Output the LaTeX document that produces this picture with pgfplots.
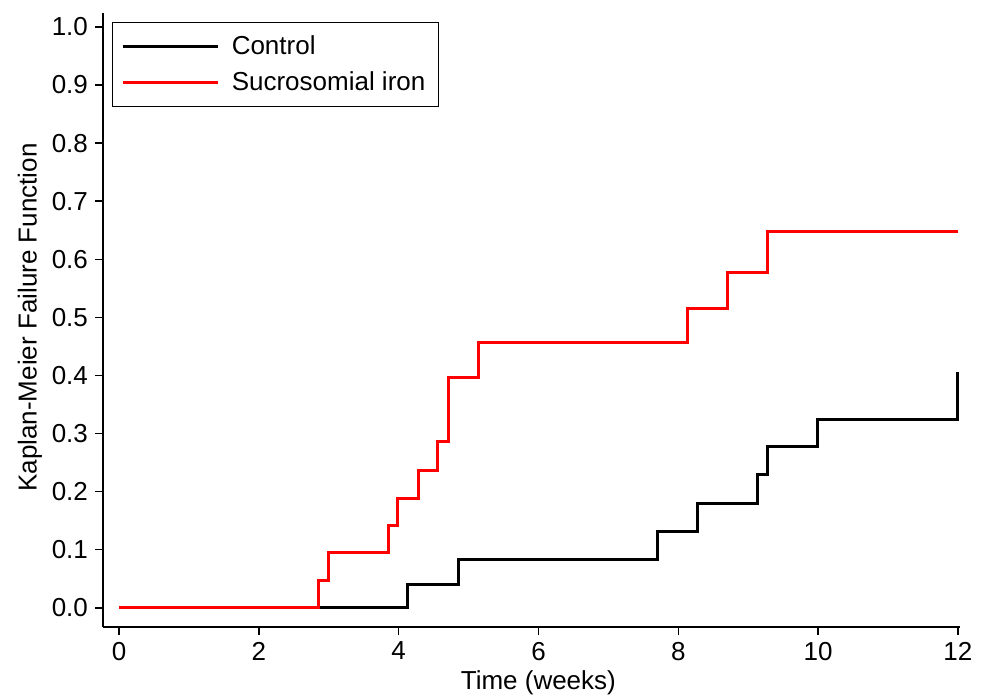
\documentclass[border=0pt]{standalone}
\usepackage{fontspec}
\setmainfont{Liberation Sans}
\usepackage{pgfplots}
\pgfplotsset{compat=1.18}
\begin{document}
\begin{tikzpicture}
\begin{axis}[
    name=ax,
    scale only axis,
    width=428.5pt, height=307pt,
    xmin=-0.23, xmax=12.03,
    ymin=-0.033, ymax=1.024,
    axis x line*=bottom, axis y line*=left,
    axis line style={-, line width=0.75pt, black},
    tick align=outside, major tick length=4pt,
    tick style={line width=0.75pt, black},
    xtick={0,2,4,6,8,10,12},
    ytick={0,0.1,0.2,0.3,0.4,0.5,0.6,0.7,0.8,0.9,1.0},
    yticklabel style={/pgf/number format/.cd, fixed, fixed zerofill, precision=1},
    /pgf/number format/assume math mode=true,
    tick label style={font=\fontsize{13}{15}\selectfont},
    label style={font=\fontsize{13}{15}\selectfont},
    xlabel={Time (weeks)},
    ylabel={Kaplan-Meier Failure Function},
    xlabel style={at={(axis description cs:0.508,-0.0912)}, anchor=center},
    ylabel style={at={(axis description cs:-0.0852,0.504)}, anchor=center},
    legend style={at={(0,1)}, anchor=north west, xshift=4.5pt, yshift=-4.5pt,
        draw=black, line width=0.75pt, font=\fontsize{13}{15}\selectfont,
        inner xsep=4.5pt, inner ysep=4.5pt, row sep=3pt, column sep=4pt},
    legend cell align=left,
    legend image code/.code={\draw[#1] (0pt,0pt) -- (47.5pt,0pt);},
]
% Control
\addplot[const plot, black, line width=1.5pt] coordinates {
    (0,0)(4.13,0.041)(4.85,0.084)(7.70,0.132)(8.27,0.180)
    (9.13,0.229)(9.27,0.277)(9.99,0.325)(12,0.406)
};
% Sucrosomial iron
\addplot[const plot, red, line width=1.5pt] coordinates {
    (0,0)(2.85,0.047)(2.99,0.095)(3.85,0.142)(3.99,0.189)
    (4.28,0.237)(4.56,0.287)(4.71,0.397)(5.14,0.457)
    (8.13,0.516)(8.70,0.577)(9.27,0.647)(12,0.647)
};
\legend{Control, Sucrosomial iron}
\end{axis}
\pgfresetboundingbox
\path ([shift={(-51.5pt,-34pt)}]ax.south west) rectangle ([shift={(12pt,6.5pt)}]ax.north east);
\end{tikzpicture}
\end{document}
